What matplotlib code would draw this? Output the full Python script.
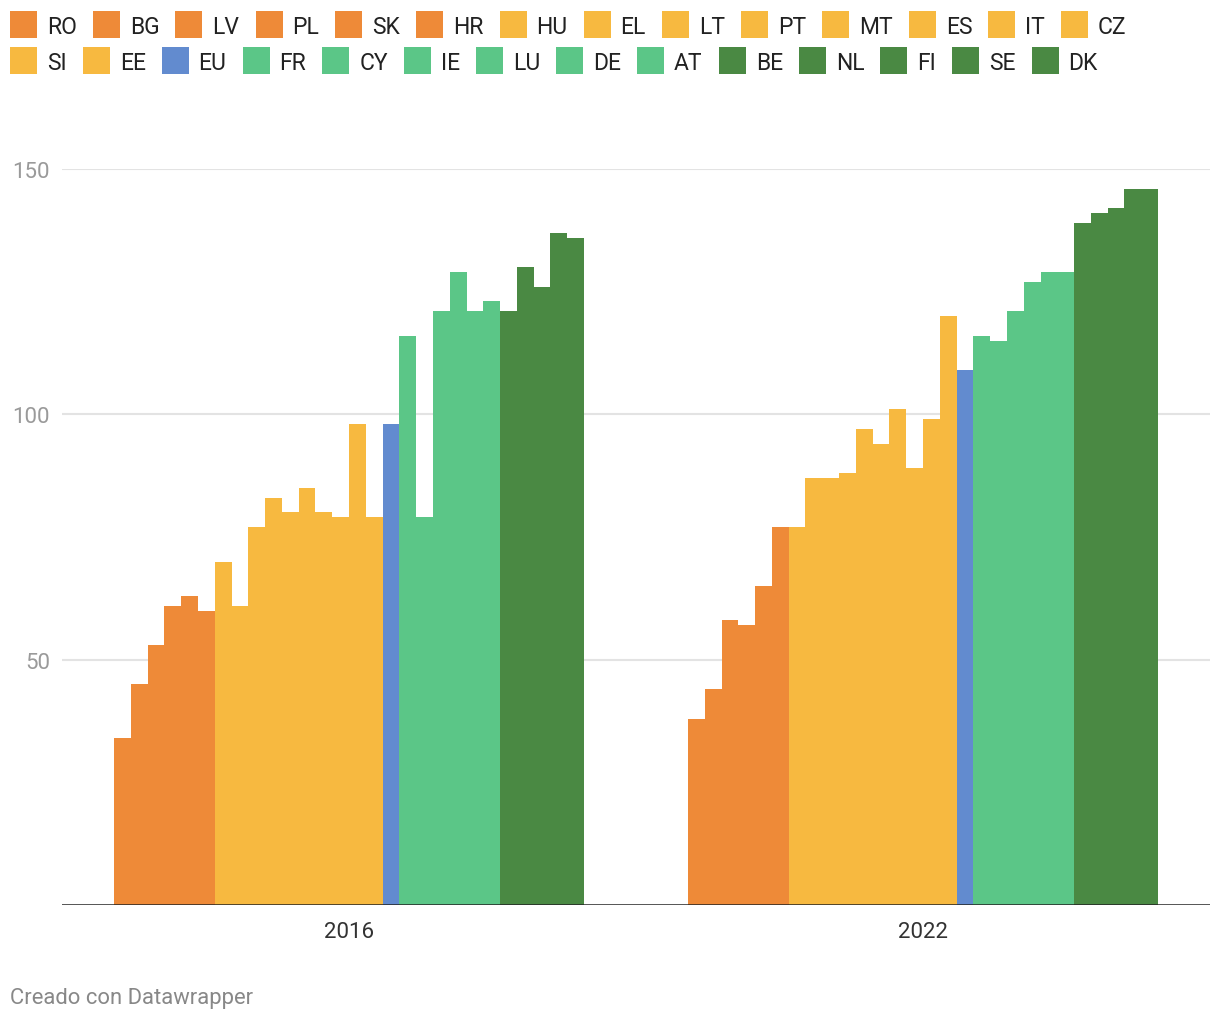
import matplotlib
matplotlib.use('Agg')
import matplotlib.pyplot as plt
from matplotlib.patches import Rectangle
from matplotlib import transforms

plt.rcParams['font.family'] = ['Roboto', 'DejaVu Sans']

# countries in chart order, and the colour group each belongs to
countries = ['RO', 'BG', 'LV', 'PL', 'SK', 'HR',
             'HU', 'EL', 'LT', 'PT', 'MT', 'ES', 'IT', 'CZ', 'SI', 'EE',
             'EU',
             'FR', 'CY', 'IE', 'LU', 'DE', 'AT',
             'BE', 'NL', 'FI', 'SE', 'DK']
groups = ['o'] * 6 + ['y'] * 10 + ['b'] + ['g'] * 6 + ['d'] * 5
years = ['2016', '2022']

vals_2016 = [34, 45, 53, 61, 63, 60,
             70, 61, 77, 83, 80, 85, 80, 79, 98, 79,
             98,
             116, 79, 121, 129, 121, 123,
             121, 130, 126, 137, 136]
vals_2022 = [38, 44, 58, 57, 65, 77,
             77, 87, 87, 88, 97, 94, 101, 89, 99, 120,
             109,
             116, 115, 121, 127, 129, 129,
             139, 141, 142, 146, 146]

palette = {'o': '#ee8a38', 'y': '#f7b940', 'b': '#628bcf',
           'g': '#5bc687', 'd': '#4a8943'}
colors = [palette[g] for g in groups]

W, H = 1220, 1020
fig = plt.figure(figsize=(W / 100, H / 100), dpi=100)
px = 72 / 100  # points per pixel

ax_left, ax_right, ax_bottom, ax_top = 62, 1210, 906, 170
ax = fig.add_axes([ax_left / W, 1 - ax_bottom / H,
                   (ax_right - ax_left) / W, (ax_bottom - ax_top) / H])
ax.set_xlim(0, 2)
ax.set_ylim(0, 150)

n = len(countries)
group_w = 470 / 574
bw = group_w / n
for gi, vals in enumerate([vals_2016, vals_2022]):
    center = gi + 0.5
    xs = [center - group_w / 2 + i * bw for i in range(n)]
    ax.bar(xs, vals, width=bw, align='edge', color=colors,
           linewidth=0, zorder=2)

# gridlines + y labels (right aligned, digits centred on the line)
for y in [50, 100, 150]:
    ax.axhline(y, color='#e3e3e3', lw=1.5, zorder=1)
ytrans = transforms.blended_transform_factory(fig.transFigure, ax.transData)
ytrans = ytrans + transforms.ScaledTranslation(0, -8 / 100, fig.dpi_scale_trans)
for y in [50, 100, 150]:
    ax.text(50 / W, y, str(y), transform=ytrans, ha='right', va='baseline',
            fontsize=16, color='#9a9a9a')

ax.axhline(0, color='#222222', lw=1.8, zorder=3)

for gi, yr in enumerate(years):
    ax.annotate(yr, xy=(gi + 0.5, 0), xytext=(0, -32 * px),
                textcoords='offset points', ha='center', va='baseline',
                fontsize=16, color='#333333')

for s in ax.spines.values():
    s.set_visible(False)
ax.set_xticks([])
ax.set_yticks([])

# legend drawn by hand, two rows of 14
renderer = fig.canvas.get_renderer()
patch = 27
row_top = [12, 48]
for r in range(2):
    x = 10
    for k in range(14):
        i = r * 14 + k
        top = row_top[r]
        fig.patches.append(Rectangle((x / W, 1 - (top + patch) / H),
                                     patch / W, patch / H,
                                     transform=fig.transFigure,
                                     color=colors[i], lw=0))
        t = fig.text((x + patch + 10) / W, 1 - (top + 22) / H, countries[i],
                     ha='left', va='baseline', fontsize=16.5, color='#222222')
        bb = t.get_window_extent(renderer)
        x = bb.x1 + 16

fig.text(10 / W, 1 - 1004 / H, 'Creado con Datawrapper', ha='left',
         va='baseline', fontsize=15.8, color='#888888')

fig.savefig('out.png', dpi=100)
